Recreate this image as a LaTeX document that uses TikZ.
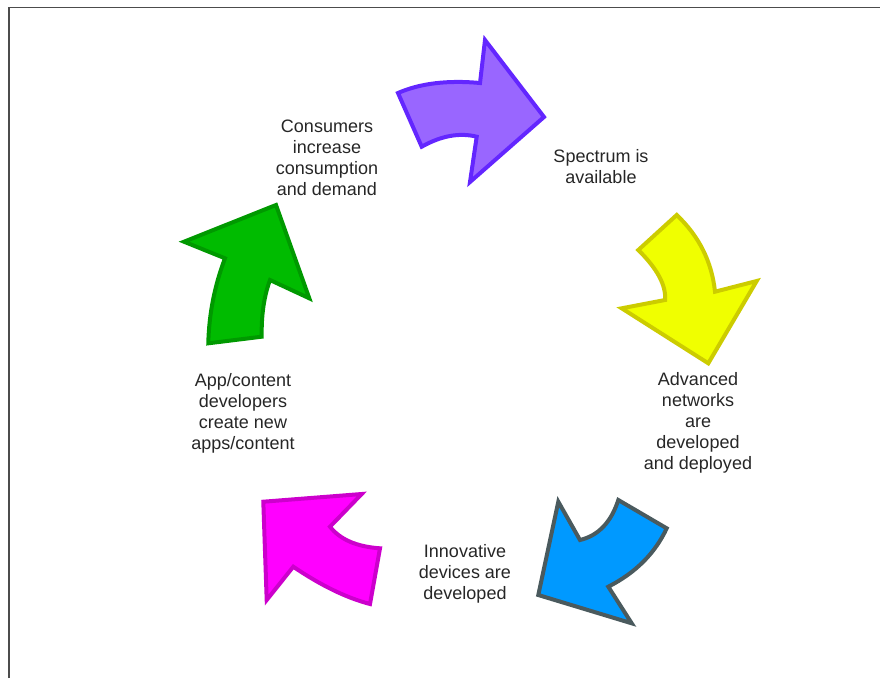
\documentclass[tikz,border=0pt]{standalone}
\usepackage{fontspec}
\setmainfont{Liberation Sans}
\begin{document}
\begin{tikzpicture}[x=1pt,y=-1pt,
  label/.style={align=center,text=black!85,font=\fontsize{18}{21}\selectfont,inner sep=0pt},
  bent/.style={line width=4pt,line join=miter,miter limit=10}]
\useasboundingbox (0,0) rectangle (880,678);
% frame
\draw[line width=1.6pt,black!70] (9,678) -- (9,7.5) -- (880,7.5);

% purple arrow
\definecolor{pfill}{HTML}{9966FF}\definecolor{pline}{HTML}{6326FF}
\draw[bent,fill=pfill,draw=pline]
  (398,93) .. controls (420,83.4) and (447.3,80) .. (480,83) -- (485,40) -- (544,117)
  -- (470,182) -- (476.7,136.7) .. controls (459.4,132.4) and (441.1,135.8) .. (421.7,146.7) -- cycle;

% yellow arrow
\definecolor{yfill}{HTML}{F0FF00}\definecolor{yline}{HTML}{CCCC00}
\draw[bent,fill=yfill,draw=yline]
  (676.7,215) .. controls (699,236.1) and (711.8,261.7) .. (715,291.7) -- (756.7,281) -- (708.3,363.3)
  -- (621.7,308.3) -- (665,300) .. controls (666.3,285.6) and (657.4,268.9) .. (638.3,250) -- cycle;

% blue arrow
\definecolor{bfill}{HTML}{0099FF}\definecolor{bline}{HTML}{4A5A5E}
\draw[bent,fill=bfill,draw=bline]
  (666.7,528.3) .. controls (655,553.4) and (635.5,572.8) .. (608.3,586.7) -- (631.7,623.3) -- (538.3,595)
  -- (558.3,501.7) -- (580,540) .. controls (598.3,535.6) and (611.1,522.3) .. (618.3,500) -- cycle;

% magenta arrow
\definecolor{mfill}{HTML}{FF00FF}\definecolor{mline}{HTML}{CC00CC}
\draw[bent,fill=mfill,draw=mline]
  (380,548.3) .. controls (356.7,546.7) and (340,539.5) .. (330,526.7) -- (361.7,494) -- (263.3,501.7)
  -- (266.7,600) -- (293.3,566.7) .. controls (320.7,585.3) and (346.2,597.8) .. (370,604) -- cycle;

% green arrow
\definecolor{gfill}{HTML}{00BB00}\definecolor{gline}{HTML}{009900}
\draw[bent,fill=gfill,draw=gline]
  (208.3,343.3) .. controls (209,313.9) and (214.6,285.6) .. (225,258.3) -- (184,241.7) -- (276,205)
  -- (309.3,298.3) -- (270,280) .. controls (264.1,295.8) and (261.3,314.7) .. (261.7,336.7) -- cycle;

% labels
\node[label] (consumers) at (327,158) {Consumers\\increase\\consumption\\and demand};
\node[label] (spectrum) at (601,167) {Spectrum is\\available};
\node[label] (networks) at (698,423) {Advanced\\networks\\are\\developed\\and deployed};
\node[label] (devices) at (465,574) {Innovative\\devices are\\developed};
\node[label] (apps) at (243,413) {App/content\\developers\\create new\\apps/content};
\end{tikzpicture}
\end{document}
